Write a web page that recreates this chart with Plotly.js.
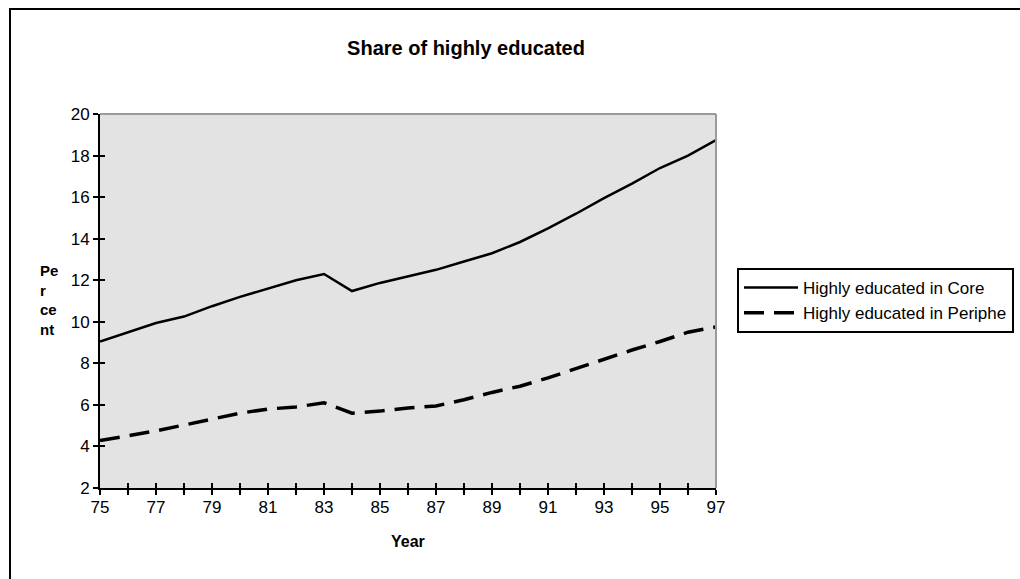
<!DOCTYPE html>
<html>
<head>
<meta charset="utf-8">
<script src="https://cdn.plot.ly/plotly-3.0.1.min.js"></script>
<style>body{margin:0;padding:0;background:#fff}#chart{width:1020px;height:579px}</style>
</head>
<body>
<div id="chart"></div>
<script>
const years = [75,76,77,78,79,80,81,82,83,84,85,86,87,88,89,90,91,92,93,94,95,96,97];
const core = [9.05,9.5,9.94,10.25,10.75,11.2,11.6,12.0,12.3,11.48,11.87,12.2,12.5,12.9,13.3,13.84,14.5,15.2,15.95,16.65,17.4,18.0,18.75];
const periphery = [4.28,4.5,4.75,5.03,5.3,5.6,5.8,5.9,6.1,5.6,5.7,5.85,5.95,6.25,6.6,6.9,7.3,7.75,8.2,8.64,9.05,9.5,9.75];
const xTickVals = [75,77,79,81,83,85,87,89,91,93,95,97];
const yTickVals = [2,4,6,8,10,12,14,16,18,20];
const seriesNames = ["Highly educated in Core","Highly educated in Periphe"];
const titleText = "Share of highly educated";
const xTitle = "Year";
const yTitle = "Pe<br>r<br>ce<br>nt";

const font = "Liberation Sans, Arial, sans-serif";
const traces = [
  {x: years, y: core, name: seriesNames[0], mode: "lines", line: {color: "#000", width: 2.5}},
  {x: years, y: periphery, name: seriesNames[1], mode: "lines", line: {color: "#000", width: 3.5, dash: "20px,10px"}},
  {x: years, y: core, xaxis: "x2", yaxis: "y2", showlegend: false, mode: "lines", line: {width: 0}, hoverinfo: "skip"}
];
const layout = {
  width: 1020, height: 579,
  margin: {l: 100, r: 304, t: 114, b: 91, autoexpand: false},
  paper_bgcolor: "#fff",
  plot_bgcolor: "#e3e3e3",
  font: {family: font, color: "#000", size: 16},
  title: {text: "<b>" + titleText + "</b>", x: 466/1020, xanchor: "center", y: 1 - 48/579, yanchor: "middle", font: {size: 20, family: font}},
  showlegend: true,
  legend: {x: (737-100)/616, xanchor: "left", y: (488-268)/374, yanchor: "top", bordercolor: "#000", borderwidth: 2, bgcolor: "#fff", font: {size: 17, family: font}, itemwidth: 54, tracegroupgap: 0},
  xaxis: {
    range: [75, 97], tickmode: "array", tickvals: years,
    ticktext: years.map(v => xTickVals.includes(v) ? String(v) : ""),
    ticks: "outside", ticklen: 5, tickwidth: 2, tickcolor: "#000",
    showline: true, linecolor: "#000", linewidth: 2, showgrid: false, zeroline: false,
    tickfont: {size: 17}, ticklabelstandoff: -2
  },
  yaxis: {
    range: [2, 20], tickmode: "array", tickvals: yTickVals,
    ticks: "outside", ticklen: 5, tickwidth: 2, tickcolor: "#000",
    showline: true, linecolor: "#000", linewidth: 2, showgrid: false, zeroline: false,
    tickfont: {size: 17}
  },
  xaxis2: {overlaying: "x", matches: "x", range: [75, 97], tickmode: "array", tickvals: years, ticks: "inside", ticklen: 5, tickwidth: 2, tickcolor: "#000", showticklabels: false, showline: false, showgrid: false, zeroline: false},
  yaxis2: {overlaying: "y", matches: "y", range: [2, 20], tickmode: "array", tickvals: yTickVals, ticks: "inside", ticklen: 5, tickwidth: 2, tickcolor: "#000", showticklabels: false, showline: false, showgrid: false, zeroline: false},
  annotations: [
    {text: "<b>" + xTitle + "</b>", xref: "paper", yref: "paper", x: (408-100)/616, y: (488-541)/374, xanchor: "center", yanchor: "middle", showarrow: false, font: {size: 16}},
    {text: "<b>" + yTitle + "</b>", xref: "paper", yref: "paper", x: (38-100)/616, y: (488-300)/374, xanchor: "left", yanchor: "middle", align: "left", showarrow: false, font: {size: 15}}
  ],
  shapes: [
    {type: "line", xref: "paper", yref: "paper", x0: 0, x1: 1, y0: 1, y1: 1, line: {color: "#9a9a9a", width: 2}},
    {type: "line", xref: "paper", yref: "paper", x0: 1, x1: 1, y0: 0, y1: 1, line: {color: "#9a9a9a", width: 2}},
    {type: "rect", xref: "paper", yref: "paper", x0: (10-100)/616, x1: (1030-100)/616, y0: (488-590)/374, y1: (488-9)/374, line: {color: "#000", width: 2}, fillcolor: "rgba(0,0,0,0)"}
  ]
};
Plotly.newPlot("chart", traces, layout, {displayModeBar: false, staticPlot: true});
</script>
</body>
</html>
